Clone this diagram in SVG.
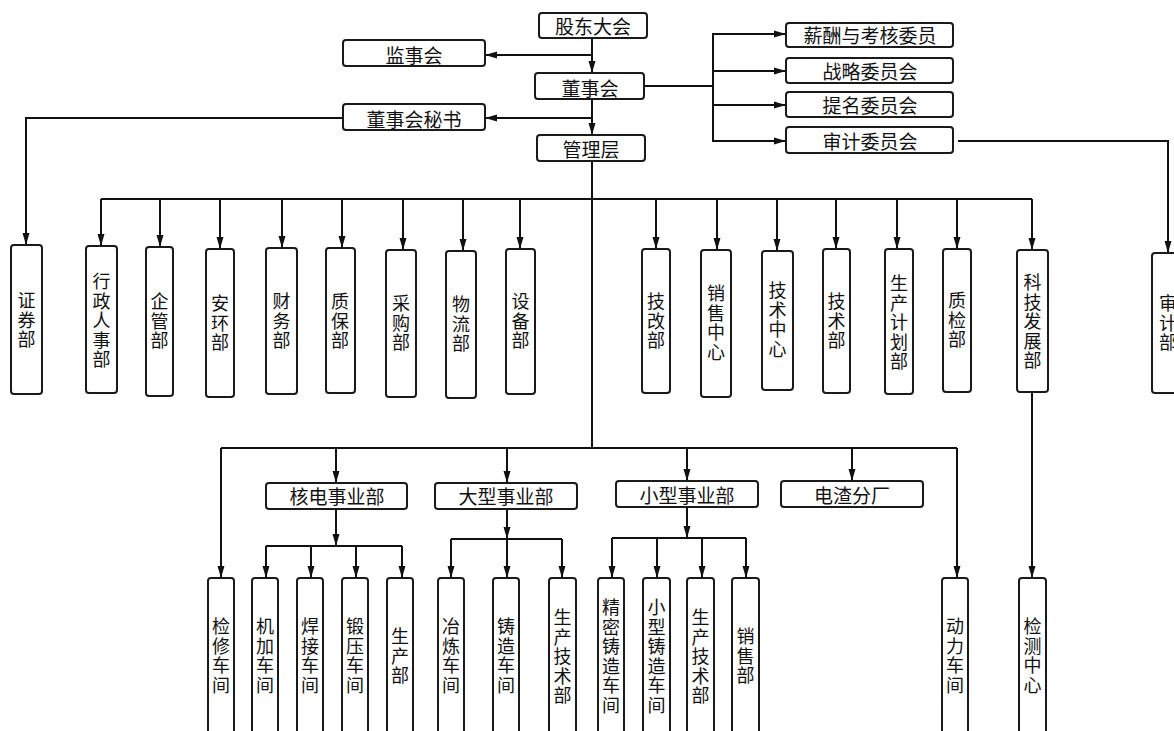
<svg xmlns="http://www.w3.org/2000/svg" width="1174" height="731" viewBox="0 0 1174 731">
<defs>
<marker id="ah" markerUnits="userSpaceOnUse" markerWidth="12" markerHeight="8" refX="12" refY="4" orient="auto">
<path d="M0,0.5 L12,4 L0,7.5 z" fill="#111"/>
</marker>
<style>
.b{fill:#fff;stroke:#1a1a1a;stroke-width:2;}
.t{font-family:"Noto Sans CJK SC","Noto Sans",sans-serif;font-size:19px;fill:#111;text-anchor:middle;}
.v{font-family:"Noto Sans CJK SC","Noto Sans",sans-serif;font-size:18px;fill:#111;text-anchor:middle;}
.c{fill:none;stroke:#111;stroke-width:2;}
.a{fill:none;stroke:#111;stroke-width:2;marker-end:url(#ah);}
</style>
</defs>
<rect width="1174" height="731" fill="#fff"/>

<g id="connectors">
<path class="a" d="M592,38 V73"/>
<path class="a" d="M592,55 H485"/>
<path class="a" d="M592,99 V135"/>
<path class="a" d="M592,118 H485"/>
<path class="c" d="M644,86 H713"/>
<path class="c" d="M713,33 V142"/>
<path class="a" d="M713,34 H786"/>
<path class="a" d="M713,71 H786"/>
<path class="a" d="M713,105 H786"/>
<path class="a" d="M713,141 H786"/>
<path class="a" d="M958,141 H1168 V253"/>
<path class="a" d="M343,118 H26 V245"/>
<path class="c" d="M592,161 V448"/>
<path class="c" d="M101,199 H1032"/>
<path class="a" d="M101,199 V246"/>
<path class="a" d="M160,199 V247"/>
<path class="a" d="M220,199 V249"/>
<path class="a" d="M282,199 V248"/>
<path class="a" d="M342,199 V248"/>
<path class="a" d="M403,199 V250"/>
<path class="a" d="M463,199 V251"/>
<path class="a" d="M520,199 V249"/>
<path class="a" d="M656,199 V249"/>
<path class="a" d="M717,199 V250"/>
<path class="a" d="M777,199 V251"/>
<path class="a" d="M836,199 V249"/>
<path class="a" d="M897,199 V249"/>
<path class="a" d="M957,199 V249"/>
<path class="a" d="M1032,199 V250"/>
<path class="a" d="M1032,392 V578"/>
<path class="c" d="M221,448 H957"/>
<path class="a" d="M221,448 V578"/>
<path class="a" d="M336,448 V483"/>
<path class="a" d="M507,448 V483"/>
<path class="a" d="M687,448 V481"/>
<path class="a" d="M852,448 V481"/>
<path class="a" d="M957,448 V578"/>
<path class="a" d="M336,509 V546"/>
<path class="c" d="M266,546 H402"/>
<path class="a" d="M266,546 V578"/>
<path class="a" d="M311,546 V578"/>
<path class="a" d="M356,546 V578"/>
<path class="a" d="M402,546 V578"/>
<path class="a" d="M507,509 V539"/>
<path class="c" d="M451,539 H562"/>
<path class="a" d="M451,539 V578"/>
<path class="a" d="M507,539 V578"/>
<path class="a" d="M562,539 V578"/>
<path class="a" d="M687,507 V538"/>
<path class="c" d="M612,538 H746"/>
<path class="a" d="M612,538 V578"/>
<path class="a" d="M657,538 V578"/>
<path class="a" d="M702,538 V578"/>
<path class="a" d="M746,538 V578"/>
</g>

<g id="gudong"><rect class="b" x="539" y="13" width="108" height="25" rx="3"/><text class="t" x="593" y="34">股东大会</text></g>
<g id="jianshi"><rect class="b" x="343" y="40" width="142" height="26" rx="3"/><text class="t" x="414" y="63">监事会</text></g>
<g id="dongshi"><rect class="b" x="535" y="73" width="109" height="26" rx="3"/><text class="t" x="590" y="96">董事会</text></g>
<g id="mishu"><rect class="b" x="343" y="104" width="142" height="26" rx="3"/><text class="t" x="414" y="127">董事会秘书</text></g>
<g id="guanli"><rect class="b" x="537" y="135" width="108" height="26" rx="3"/><text class="t" x="591" y="157">管理层</text></g>
<g id="xinchou"><rect class="b" x="786" y="23" width="167" height="24" rx="3"/><text class="t" x="870" y="43">薪酬与考核委员</text></g>
<g id="zhanlue"><rect class="b" x="786" y="58" width="167" height="25" rx="3"/><text class="t" x="870" y="79">战略委员会</text></g>
<g id="timing"><rect class="b" x="786" y="92" width="167" height="25" rx="3"/><text class="t" x="870" y="113">提名委员会</text></g>
<g id="shenjiwei"><rect class="b" x="786" y="127" width="167" height="26" rx="3"/><text class="t" x="870" y="149">审计委员会</text></g>

<g id="zhengquan"><rect class="b" x="11" y="245" width="31" height="149" rx="3"/><text class="v"><tspan x="26.5" y="307">证</tspan><tspan x="26.5" y="326.5">券</tspan><tspan x="26.5" y="346">部</tspan></text></g>
<g id="xingzheng"><rect class="b" x="86" y="246" width="31" height="147" rx="3"/><text class="v"><tspan x="101.5" y="288">行</tspan><tspan x="101.5" y="307.5">政</tspan><tspan x="101.5" y="327">人</tspan><tspan x="101.5" y="346.5">事</tspan><tspan x="101.5" y="366">部</tspan></text></g>
<g id="qiguan"><rect class="b" x="146" y="247" width="27" height="149" rx="3"/><text class="v"><tspan x="159.5" y="308">企</tspan><tspan x="159.5" y="327.5">管</tspan><tspan x="159.5" y="347">部</tspan></text></g>
<g id="anhuan"><rect class="b" x="206" y="249" width="28" height="148" rx="3"/><text class="v"><tspan x="220" y="310">安</tspan><tspan x="220" y="329.5">环</tspan><tspan x="220" y="349">部</tspan></text></g>
<g id="caiwu"><rect class="b" x="266" y="248" width="31" height="146" rx="3"/><text class="v"><tspan x="281.5" y="308">财</tspan><tspan x="281.5" y="327.5">务</tspan><tspan x="281.5" y="347">部</tspan></text></g>
<g id="zhibao"><rect class="b" x="326" y="248" width="29" height="145" rx="3"/><text class="v"><tspan x="340" y="308">质</tspan><tspan x="340" y="327.5">保</tspan><tspan x="340" y="347">部</tspan></text></g>
<g id="caigou"><rect class="b" x="386" y="250" width="30" height="147" rx="3"/><text class="v"><tspan x="401" y="310">采</tspan><tspan x="401" y="329.5">购</tspan><tspan x="401" y="349">部</tspan></text></g>
<g id="wuliu"><rect class="b" x="446" y="251" width="30" height="147" rx="3"/><text class="v"><tspan x="461" y="311">物</tspan><tspan x="461" y="330.5">流</tspan><tspan x="461" y="350">部</tspan></text></g>
<g id="shebei"><rect class="b" x="506" y="249" width="29" height="145" rx="3"/><text class="v"><tspan x="520.5" y="308">设</tspan><tspan x="520.5" y="327.5">备</tspan><tspan x="520.5" y="347">部</tspan></text></g>
<g id="jigai"><rect class="b" x="642" y="249" width="28" height="144" rx="3"/><text class="v"><tspan x="656" y="308">技</tspan><tspan x="656" y="327.5">改</tspan><tspan x="656" y="347">部</tspan></text></g>
<g id="xiaoshouzx"><rect class="b" x="701" y="250" width="30" height="147" rx="3"/><text class="v"><tspan x="716" y="300">销</tspan><tspan x="716" y="319.5">售</tspan><tspan x="716" y="339">中</tspan><tspan x="716" y="358.5">心</tspan></text></g>
<g id="jishuzx"><rect class="b" x="762" y="251" width="31" height="139" rx="3"/><text class="v"><tspan x="777.5" y="297">技</tspan><tspan x="777.5" y="316.5">术</tspan><tspan x="777.5" y="336">中</tspan><tspan x="777.5" y="355.5">心</tspan></text></g>
<g id="jishubu"><rect class="b" x="823" y="249" width="27" height="144" rx="3"/><text class="v"><tspan x="836.5" y="308">技</tspan><tspan x="836.5" y="327.5">术</tspan><tspan x="836.5" y="347">部</tspan></text></g>
<g id="shengchanjh"><rect class="b" x="885" y="249" width="28" height="145" rx="3"/><text class="v"><tspan x="899" y="290">生</tspan><tspan x="899" y="309.5">产</tspan><tspan x="899" y="329">计</tspan><tspan x="899" y="348.5">划</tspan><tspan x="899" y="368">部</tspan></text></g>
<g id="zhijian"><rect class="b" x="943" y="249" width="28" height="143" rx="3"/><text class="v"><tspan x="957" y="307">质</tspan><tspan x="957" y="326.5">检</tspan><tspan x="957" y="346">部</tspan></text></g>
<g id="kejifz"><rect class="b" x="1017" y="250" width="31" height="142" rx="3"/><text class="v"><tspan x="1032.5" y="289">科</tspan><tspan x="1032.5" y="308.5">技</tspan><tspan x="1032.5" y="328">发</tspan><tspan x="1032.5" y="347.5">展</tspan><tspan x="1032.5" y="367">部</tspan></text></g>
<g id="shenjibu"><rect class="b" x="1152" y="253" width="32" height="140" rx="3"/><text class="v"><tspan x="1168" y="310">审</tspan><tspan x="1168" y="329.5">计</tspan><tspan x="1168" y="349">部</tspan></text></g>

<g id="hedian"><rect class="b" x="266" y="483" width="141" height="26" rx="3"/><text class="t" x="337" y="504">核电事业部</text></g>
<g id="daxing"><rect class="b" x="435" y="483" width="142" height="26" rx="3"/><text class="t" x="506" y="504">大型事业部</text></g>
<g id="xiaoxing"><rect class="b" x="616" y="481" width="142" height="26" rx="3"/><text class="t" x="687" y="503">小型事业部</text></g>
<g id="dianzha"><rect class="b" x="781" y="481" width="142" height="26" rx="3"/><text class="t" x="852" y="503">电渣分厂</text></g>

<g id="jianxiu"><rect class="b" x="208" y="578" width="26" height="160" rx="3"/><text class="v"><tspan x="221" y="633">检</tspan><tspan x="221" y="652.5">修</tspan><tspan x="221" y="672">车</tspan><tspan x="221" y="691.5">间</tspan></text></g>
<g id="jijia"><rect class="b" x="252" y="578" width="26" height="160" rx="3"/><text class="v"><tspan x="265" y="633">机</tspan><tspan x="265" y="652.5">加</tspan><tspan x="265" y="672">车</tspan><tspan x="265" y="691.5">间</tspan></text></g>
<g id="hanjie"><rect class="b" x="297" y="578" width="26" height="160" rx="3"/><text class="v"><tspan x="310" y="633">焊</tspan><tspan x="310" y="652.5">接</tspan><tspan x="310" y="672">车</tspan><tspan x="310" y="691.5">间</tspan></text></g>
<g id="duanya"><rect class="b" x="342" y="578" width="26" height="160" rx="3"/><text class="v"><tspan x="355" y="633">锻</tspan><tspan x="355" y="652.5">压</tspan><tspan x="355" y="672">车</tspan><tspan x="355" y="691.5">间</tspan></text></g>
<g id="shengchanbu"><rect class="b" x="387" y="578" width="26" height="160" rx="3"/><text class="v"><tspan x="400" y="643">生</tspan><tspan x="400" y="662.5">产</tspan><tspan x="400" y="682">部</tspan></text></g>
<g id="yelian"><rect class="b" x="438" y="578" width="26" height="160" rx="3"/><text class="v"><tspan x="451" y="633">冶</tspan><tspan x="451" y="652.5">炼</tspan><tspan x="451" y="672">车</tspan><tspan x="451" y="691.5">间</tspan></text></g>
<g id="zhuzao"><rect class="b" x="493" y="578" width="26" height="160" rx="3"/><text class="v"><tspan x="506" y="633">铸</tspan><tspan x="506" y="652.5">造</tspan><tspan x="506" y="672">车</tspan><tspan x="506" y="691.5">间</tspan></text></g>
<g id="scjs1"><rect class="b" x="549" y="578" width="27" height="160" rx="3"/><text class="v"><tspan x="562.5" y="624">生</tspan><tspan x="562.5" y="643.5">产</tspan><tspan x="562.5" y="663">技</tspan><tspan x="562.5" y="682.5">术</tspan><tspan x="562.5" y="702">部</tspan></text></g>
<g id="jingmi"><rect class="b" x="598" y="578" width="26" height="160" rx="3"/><text class="v"><tspan x="611" y="614">精</tspan><tspan x="611" y="633.5">密</tspan><tspan x="611" y="653">铸</tspan><tspan x="611" y="672.5">造</tspan><tspan x="611" y="692">车</tspan><tspan x="611" y="711.5">间</tspan></text></g>
<g id="xiaoxingzz"><rect class="b" x="643" y="578" width="27" height="160" rx="3"/><text class="v"><tspan x="656.5" y="614">小</tspan><tspan x="656.5" y="633.5">型</tspan><tspan x="656.5" y="653">铸</tspan><tspan x="656.5" y="672.5">造</tspan><tspan x="656.5" y="692">车</tspan><tspan x="656.5" y="711.5">间</tspan></text></g>
<g id="scjs2"><rect class="b" x="687" y="578" width="27" height="160" rx="3"/><text class="v"><tspan x="700.5" y="624">生</tspan><tspan x="700.5" y="643.5">产</tspan><tspan x="700.5" y="663">技</tspan><tspan x="700.5" y="682.5">术</tspan><tspan x="700.5" y="702">部</tspan></text></g>
<g id="xiaoshoubu"><rect class="b" x="732" y="578" width="27" height="160" rx="3"/><text class="v"><tspan x="745.5" y="643">销</tspan><tspan x="745.5" y="662.5">售</tspan><tspan x="745.5" y="682">部</tspan></text></g>
<g id="dongli"><rect class="b" x="942" y="578" width="26" height="160" rx="3"/><text class="v"><tspan x="955" y="633">动</tspan><tspan x="955" y="652.5">力</tspan><tspan x="955" y="672">车</tspan><tspan x="955" y="691.5">间</tspan></text></g>
<g id="jiance"><rect class="b" x="1019" y="578" width="27" height="160" rx="3"/><text class="v"><tspan x="1032.5" y="633">检</tspan><tspan x="1032.5" y="652.5">测</tspan><tspan x="1032.5" y="672">中</tspan><tspan x="1032.5" y="691.5">心</tspan></text></g>
</svg>
